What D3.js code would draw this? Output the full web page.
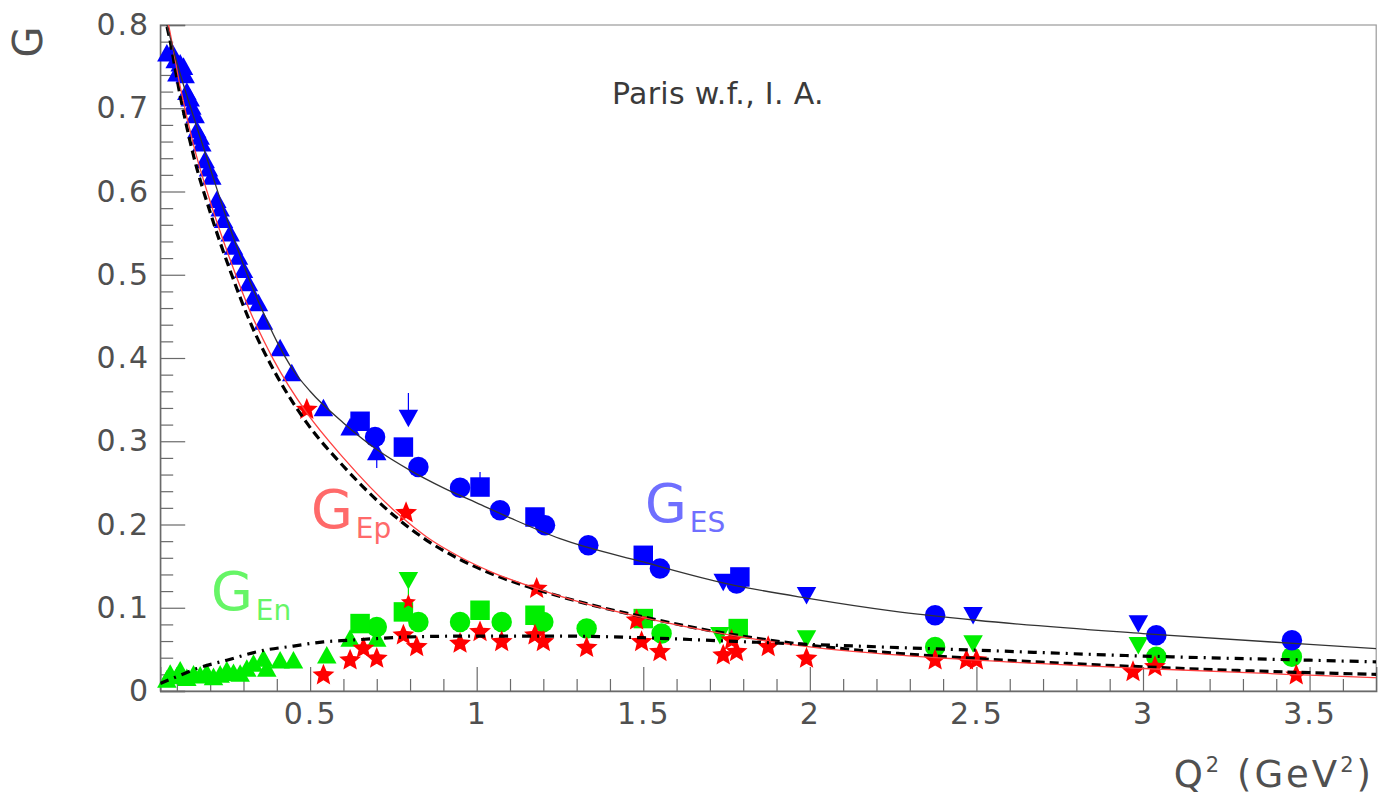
<!DOCTYPE html>
<html><head><meta charset="utf-8">
<script src="https://cdn.jsdelivr.net/npm/d3@7"></script>
<style>
html,body{margin:0;padding:0;background:#fff;}
svg{display:block;}
text{font-family:"DejaVu Sans",sans-serif;}
</style></head><body>
<svg id="chart" width="1385" height="798"></svg>
<script>
// ---------- data ----------
const xTicksMajor = [0.5, 1, 1.5, 2, 2.5, 3, 3.5];
const xTickLabels = ["0.5", "1", "1.5", "2", "2.5", "3", "3.5"];
const yTicksMajor = [0, 0.1, 0.2, 0.3, 0.4, 0.5, 0.6, 0.7, 0.8];
const yTickLabels = ["0", "0.1", "0.2", "0.3", "0.4", "0.5", "0.6", "0.7", "0.8"];

// theory curves [Q2, G]
const curveGES = [[0.05,0.83],[0.07,0.80],[0.1,0.755],[0.15,0.69],[0.2,0.628],[0.25,0.567],[0.3,0.512],[0.35,0.463],[0.4,0.42],[0.45,0.385],[0.5,0.36],[0.6,0.322],[0.7,0.29],[0.8,0.265],[0.9,0.244],[1.0,0.226],[1.1,0.208],[1.25,0.183],[1.5,0.155],[1.75,0.129],[2.0,0.111],[2.25,0.096],[2.5,0.085],[3.0,0.069],[3.5,0.056],[3.7,0.051]];
const curveGEp = [[0.05,0.84],[0.075,0.80],[0.11,0.726],[0.15,0.656],[0.2,0.588],[0.26,0.518],[0.32,0.456],[0.39,0.398],[0.49,0.334],[0.6,0.28],[0.76,0.214],[0.85,0.185],[0.95,0.161],[1.05,0.142],[1.18,0.123],[1.3,0.108],[1.5,0.088],[1.75,0.068],[2.0,0.053],[2.27,0.043],[2.5,0.037],[3.0,0.027],[3.5,0.019],[3.7,0.016]];
const curveGEpDip = [[0.05,0.83],[0.075,0.79],[0.11,0.715],[0.15,0.643],[0.2,0.575],[0.26,0.505],[0.32,0.443],[0.39,0.386],[0.49,0.322],[0.6,0.27],[0.76,0.208],[0.85,0.181],[0.95,0.158],[1.05,0.14],[1.18,0.122],[1.3,0.108],[1.5,0.089],[1.75,0.069],[2.0,0.055],[2.27,0.045],[2.5,0.039],[3.0,0.029],[3.5,0.022],[3.7,0.02]];
const curveGEn = [[0.05,0.009],[0.11,0.019],[0.16,0.027],[0.25,0.037],[0.35,0.048],[0.45,0.054],[0.54,0.059],[0.62,0.061],[0.7,0.063],[0.8,0.065],[1.0,0.066],[1.25,0.066],[1.5,0.064],[1.75,0.06],[2.0,0.056],[2.5,0.049],[3.0,0.042],[3.5,0.037],[3.7,0.035]];

// blue data (G_ES)
const blueTriUp = [[0.07,0.766],[0.085,0.768],[0.095,0.758],[0.1,0.742],[0.11,0.754],[0.12,0.75],[0.125,0.74],[0.13,0.72],[0.14,0.712],[0.145,0.702],[0.155,0.692],[0.16,0.674],[0.17,0.666],[0.175,0.658],[0.185,0.638],[0.195,0.628],[0.205,0.618],[0.22,0.59],[0.23,0.58],[0.24,0.566],[0.26,0.55],[0.27,0.534],[0.285,0.522],[0.30,0.506],[0.315,0.49],[0.33,0.474],[0.345,0.466],[0.36,0.444],[0.41,0.412],[0.445,0.382],[0.54,0.34],[0.62,0.317],[0.70,0.287]];
const blueCircle = [[0.695,0.305],[0.825,0.269],[0.95,0.244],[1.07,0.217],[1.205,0.199],[1.335,0.175],[1.55,0.147],[1.78,0.129],[2.376,0.091],[3.04,0.067],[3.447,0.061]];
const blueSquare = [[0.65,0.324],[0.78,0.293],[1.01,0.245],[1.175,0.209],[1.50,0.163],[1.79,0.137]];
const blueTriDown = [[0.795,0.328],[1.74,0.131],[1.99,0.115],[2.49,0.091],[2.986,0.081]];
const blueErr = [[0.795,0.328,0.358],[0.70,0.268,0.287],[1.01,0.245,0.263]];

// green data (G_En)
const greenTriUp = [[0.07,0.014],[0.08,0.021],[0.1,0.018],[0.11,0.025],[0.13,0.016],[0.15,0.02],[0.17,0.019],[0.19,0.022],[0.21,0.017],[0.23,0.02],[0.25,0.025],[0.27,0.022],[0.29,0.021],[0.31,0.027],[0.33,0.033],[0.36,0.039],[0.37,0.027],[0.41,0.037],[0.45,0.037],[0.55,0.043],[0.62,0.063],[0.70,0.063]];
const greenCircle = [[0.70,0.077],[0.825,0.083],[0.95,0.083],[1.075,0.083],[1.2,0.083],[1.33,0.075],[1.555,0.069],[2.376,0.053],[3.04,0.041],[3.447,0.041]];
const greenSquare = [[0.65,0.081],[0.78,0.095],[1.01,0.097],[1.175,0.091],[1.50,0.087],[1.785,0.075]];
const greenTriDown = [[0.795,0.133],[1.73,0.067],[1.99,0.063],[2.49,0.057],[2.986,0.055]];
const greenErr = [[0.795,0.112,0.133]];

// red stars
const redStarGEp = [[0.49,0.338],[0.788,0.214],[1.18,0.123],[1.48,0.085],[1.765,0.061],[1.875,0.053],[2.5,0.037],[3.46,0.019]];
const redStarGEn = [[0.54,0.019],[0.62,0.037],[0.66,0.051],[0.70,0.039],[0.78,0.067],[0.82,0.053],[0.95,0.057],[1.01,0.071],[1.075,0.059],[1.175,0.067],[1.2,0.059],[1.33,0.052],[1.495,0.059],[1.55,0.047],[1.74,0.043],[1.78,0.047],[1.99,0.039],[2.376,0.037],[2.47,0.037],[2.97,0.023],[3.036,0.029]];
const redStarSmall = [[0.795,0.107]];

// ---------- layout ----------
const svg = d3.select("#chart");
const L = 160.2, R = 1376.2, T = 25, B = 691;
const x = d3.scaleLinear().domain([0.05, 3.7]).range([L, R]);
const y = d3.scaleLinear().domain([0, 0.8]).range([B, T]);
const axisColor = "#6a6a6a";
const textColor = "#505050";

svg.append("defs").append("clipPath").attr("id","clip")
  .append("rect").attr("x",L).attr("y",T).attr("width",R-L).attr("height",B-T);

// frame
svg.append("rect").attr("x",L).attr("y",T).attr("width",R-L).attr("height",B-T)
  .attr("fill","none").attr("stroke","#9a9a9a").attr("stroke-width",1.2);

// x axis: minor ticks
const xMinor = d3.range(1, 37).map(i => i/10).filter(v => Math.abs(v*2 - Math.round(v*2)) > 1e-6);
svg.append("g").attr("transform",`translate(0,${B})`)
  .call(d3.axisBottom(x).tickValues(xMinor).tickSize(-12).tickFormat(""))
  .call(g => { g.select(".domain").remove(); g.selectAll("line").attr("stroke",axisColor).attr("stroke-width",1.2); });
svg.append("g").attr("transform",`translate(0,${B})`)
  .call(d3.axisBottom(x).tickValues(xTicksMajor).tickSize(-24).tickPadding(12)
    .tickFormat((d,i) => xTickLabels[i]))
  .call(g => {
    g.select(".domain").attr("stroke",axisColor).attr("stroke-width",1.4);
    g.selectAll("line").attr("stroke",axisColor).attr("stroke-width",1.2);
    g.selectAll("text").attr("fill",textColor).attr("font-size",30)
      .attr("font-family",'"DejaVu Sans",sans-serif').style("letter-spacing","2px");
  });

// y axis
const yMinor = d3.range(1, 40).map(i => i/50).filter(v => Math.abs(v*10 - Math.round(v*10)) > 1e-6);
svg.append("g").attr("transform",`translate(${L},0)`)
  .call(d3.axisLeft(y).tickValues(yMinor).tickSize(-13).tickFormat(""))
  .call(g => { g.select(".domain").remove(); g.selectAll("line").attr("stroke",axisColor).attr("stroke-width",1.2); });
svg.append("g").attr("transform",`translate(${L},0)`)
  .call(d3.axisLeft(y).tickValues(yTicksMajor).tickSize(-25).tickPadding(10)
    .tickFormat((d,i) => yTickLabels[i]))
  .call(g => {
    g.select(".domain").attr("stroke",axisColor).attr("stroke-width",1.4);
    g.selectAll("line").attr("stroke",axisColor).attr("stroke-width",1.2);
    g.selectAll("text").attr("fill",textColor).attr("font-size",30)
      .attr("font-family",'"DejaVu Sans",sans-serif').style("letter-spacing","2px");
  });

// ---------- markers ----------
const triUp = { draw(c, size){ const s = Math.sqrt(size)/2; c.moveTo(0,-s*0.95); c.lineTo(s,s*0.85); c.lineTo(-s,s*0.85); c.closePath(); } };
const triDown = { draw(c, size){ const s = Math.sqrt(size)/2; c.moveTo(0,s*0.95); c.lineTo(s,-s*0.85); c.lineTo(-s,-s*0.85); c.closePath(); } };
const sqr = { draw(c, size){ const s = Math.sqrt(size)/2; c.rect(-s,-s,2*s,2*s); } };
const star = { draw(c, size){
  const ro = Math.sqrt(size)/2, ri = ro*0.45;
  for (let k = 0; k < 10; k++) {
    const r = k % 2 ? ri : ro, a = -Math.PI/2 + k*Math.PI/5;
    k ? c.lineTo(r*Math.cos(a), r*Math.sin(a)) : c.moveTo(r*Math.cos(a), r*Math.sin(a));
  }
  c.closePath();
} };

const marks = svg.append("g");
function errBars(data, color){
  marks.append("g").selectAll("line").data(data).join("line")
    .attr("x1",d=>x(d[0])).attr("x2",d=>x(d[0]))
    .attr("y1",d=>y(d[1])).attr("y2",d=>y(d[2]))
    .attr("stroke",color).attr("stroke-width",1.2);
}
function plot(data, type, size, color){
  const sym = d3.symbol().type(type).size(size);
  marks.append("g").selectAll("path").data(data).join("path")
    .attr("transform", d => `translate(${x(d[0])},${y(d[1])})`)
    .attr("d", sym).attr("fill", color);
}
const BLUE = "#0000ff", GREEN = "#00ee00", RED = "#ff0000";
errBars(blueErr, BLUE);
errBars(greenErr, GREEN);
plot(greenTriUp, triUp, 380, GREEN);
plot(greenCircle, d3.symbolCircle, 330, GREEN);
plot(greenSquare, sqr, 380, GREEN);
plot(greenTriDown, triDown, 380, GREEN);
plot(redStarGEn, star, 530, RED);
plot(redStarSmall, star, 250, RED);
plot(blueTriUp, triUp, 380, BLUE);
plot(blueCircle, d3.symbolCircle, 330, BLUE);
plot(blueSquare, sqr, 380, BLUE);
plot(blueTriDown, triDown, 380, BLUE);
plot(redStarGEp, star, 530, RED);

// ---------- curves ----------
const line = d3.line().x(d => x(d[0])).y(d => y(d[1])).curve(d3.curveMonotoneX);
const curves = svg.append("g").attr("clip-path","url(#clip)");
curves.append("path").datum(curveGEpDip).attr("d",line).attr("fill","none")
  .attr("stroke","#000").attr("stroke-width",3.2).attr("stroke-dasharray","9,5");
curves.append("path").datum(curveGEp).attr("d",line).attr("fill","none")
  .attr("stroke","#ff4040").attr("stroke-width",1.3);
curves.append("path").datum(curveGES).attr("d",line).attr("fill","none")
  .attr("stroke","#333").attr("stroke-width",1.3);
curves.append("path").datum(curveGEn).attr("d",line).attr("fill","none")
  .attr("stroke","#000").attr("stroke-width",3.2).attr("stroke-dasharray","9,6,2,6");

// ---------- texts ----------
svg.append("text").attr("x",612).attr("y",104).attr("font-size",30)
  .attr("fill","#3a3a3a").style("letter-spacing","0.3px").text("Paris w.f., I. A.");

function label(xp, yp, main, sub, color){
  const t = svg.append("text").attr("x",xp).attr("y",yp).attr("fill",color);
  t.append("tspan").attr("font-size",54).text(main);
  t.append("tspan").attr("font-size",28).attr("dx",3).attr("dy",10).text(sub);
}
label(311, 528, "G", "Ep", "#ff6a6a");
label(645, 522, "G", "ES", "#6f6fff");
label(211, 610, "G", "En", "#66f566");

// axis titles
svg.append("text").attr("transform","translate(42,42) rotate(-90)")
  .attr("text-anchor","middle").attr("font-size",40).attr("fill",textColor).text("G");
const xt = svg.append("text").attr("x",1374).attr("y",787).attr("text-anchor","end")
  .attr("font-size",37).attr("fill",textColor).style("letter-spacing","3px");
xt.append("tspan").text("Q");
xt.append("tspan").attr("font-size",21).attr("dy",-15).text("2");
xt.append("tspan").attr("dy",15).text(" (GeV");
xt.append("tspan").attr("font-size",21).attr("dy",-15).text("2");
xt.append("tspan").attr("dy",15).text(")");
</script>
</body></html>
